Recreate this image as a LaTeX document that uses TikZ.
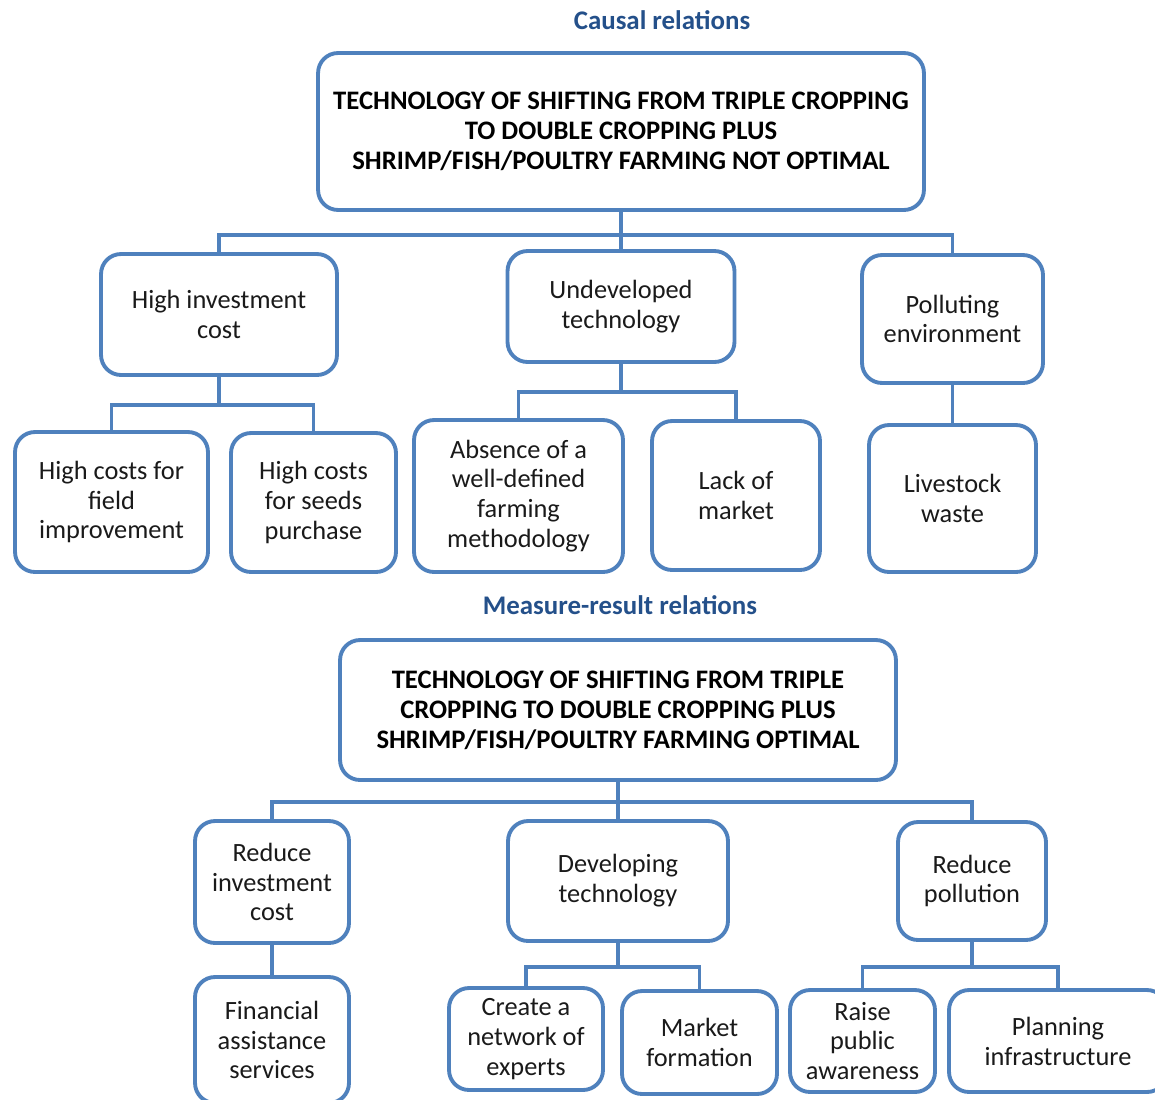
\documentclass[tikz,border=0pt]{standalone}
\usepackage{fontspec}
\setmainfont{Carlito}
\usetikzlibrary{calc}
\definecolor{boxblue}{RGB}{79,129,189}
\definecolor{headblue}{RGB}{36,80,138}
\definecolor{inktext}{RGB}{26,26,26}

\begin{document}
\begin{tikzpicture}[x=0.02cm, y=-0.02cm,
    box/.style={draw=boxblue, line width=2.2pt, rounded corners=4mm, fill=white,
      align=center, inner sep=0pt, text=inktext,
      font=\fontsize{15}{17}\selectfont},
    topbox/.style={box, font=\fontsize{15.2}{17}\selectfont\bfseries, text=black},
    heading/.style={text=headblue, font=\fontsize{15.3}{18}\selectfont\bfseries},
    link/.style={draw=boxblue, line width=2.2pt}]
  \useasboundingbox (0,0) rectangle (1155,1099);
  %%%%% causal relations %%%%%
  \node [heading] at (662,20) (causal) {Causal relations};
  \node [topbox, minimum width=12.12cm, minimum height=3.14cm] at (621,131.5) (main)
    {TECHNOLOGY OF SHIFTING FROM TRIPLE CROPPING\\TO DOUBLE CROPPING PLUS\\SHRIMP/FISH/POULTRY FARMING NOT OPTIMAL};
  %the three causes
  \node [box, minimum width=4.72cm, minimum height=2.42cm] at ($(main) + (-402,183)$) (cost) {High investment\\cost};
  \node [box, minimum width=4.54cm, minimum height=2.22cm] at ($(main) + (0,175)$) (undev) {Undeveloped\\technology};
  \node [box, minimum width=3.62cm, minimum height=2.56cm] at ($(main) + (331.5,187.5)$) (pollut) {Polluting\\environment};
  %sub-causes
  \node [box, minimum width=3.86cm, minimum height=2.80cm] at ($(cost) + (-107.5,187.5)$) (field) {High costs for\\field\\improvement};
  \node [box, minimum width=3.30cm, minimum height=2.78cm] at ($(cost) + (94.5,188)$) (seeds) {High costs\\for seeds\\purchase};
  \node [box, minimum width=4.18cm, minimum height=3.04cm] at ($(undev) + (-102.5,189.5)$) (method) {Absence of a\\well-defined\\farming\\methodology};
  \node [box, minimum width=3.36cm, minimum height=2.98cm] at ($(undev) + (115,189)$) (lack) {Lack of\\market};
  \node [box, minimum width=3.34cm, minimum height=2.94cm] at ($(pollut) + (0,179.5)$) (waste) {Livestock\\waste};
  %connectors
  \draw [link] (main.south) -- ++(0,23) -| (cost.north);
  \draw [link] (main.south) -- ++(0,23) -| (pollut.north);
  \draw [link] (main.south) -- (undev.north);
  \draw [link] (cost.south) -- ++(0,28) -| (field.north);
  \draw [link] (cost.south) -- ++(0,28) -| (seeds.north);
  \draw [link] (undev.south) -- ++(0,28) -| (method.north);
  \draw [link] (undev.south) -- ++(0,28) -| (lack.north);
  \draw [link] (pollut.south) -- (waste.north);

  %%%%% measure-result relations %%%%%
  \node [heading] at (620,605) (measure) {Measure-result relations};
  \node [topbox, minimum width=11.12cm, minimum height=2.80cm] at (618,710) (goal)
    {TECHNOLOGY OF SHIFTING FROM TRIPLE\\CROPPING TO DOUBLE CROPPING PLUS\\SHRIMP/FISH/POULTRY FARMING OPTIMAL};
  %the three measures
  \node [box, minimum width=3.08cm, minimum height=2.44cm] at ($(goal) + (-346,172)$) (reduce) {Reduce\\investment\\cost};
  \node [box, minimum width=4.40cm, minimum height=2.40cm] at ($(goal) + (0,171)$) (develop) {Developing\\technology};
  \node [box, minimum width=2.96cm, minimum height=2.36cm] at ($(goal) + (354,171)$) (clean) {Reduce\\pollution};
  %results
  \node [box, minimum width=3.08cm, minimum height=2.52cm] at ($(reduce) + (0,158)$) (finance) {Financial\\assistance\\services};
  \node [box, minimum width=3.08cm, minimum height=2.04cm] at ($(develop) + (-92,158)$) (experts) {Create a\\network of\\experts};
  \node [box, minimum width=3.10cm, minimum height=2.06cm] at ($(develop) + (81.5,161.5)$) (market) {Market\\formation};
  \node [box, minimum width=2.90cm, minimum height=2.04cm] at ($(clean) + (-109.5,160)$) (aware) {Raise\\public\\awareness};
  \node [box, minimum width=4.36cm, minimum height=2.04cm] at ($(clean) + (86,160)$) (plan) {Planning\\infrastructure};
  %connectors
  \draw [link] (goal.south) -- ++(0,20) -| (reduce.north);
  \draw [link] (goal.south) -- ++(0,20) -| (clean.north);
  \draw [link] (goal.south) -- (develop.north);
  \draw [link] (reduce.south) -- (finance.north);
  \draw [link] (develop.south) -- ++(0,24) -| (experts.north);
  \draw [link] (develop.south) -- ++(0,24) -| (market.north);
  \draw [link] (clean.south) -- ++(0,25) -| (aware.north);
  \draw [link] (clean.south) -- ++(0,25) -| (plan.north);
\end{tikzpicture}
\end{document}
